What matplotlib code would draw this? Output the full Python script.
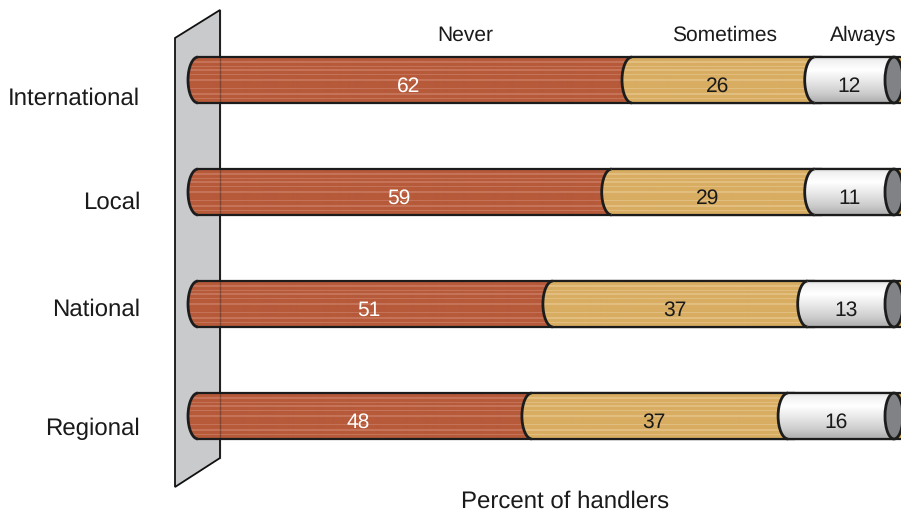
#!/usr/bin/env python3
import numpy as np
import matplotlib
matplotlib.use('Agg')
import matplotlib.pyplot as plt
from matplotlib.path import Path
from matplotlib.patches import PathPatch, Polygon, Ellipse
from matplotlib.transforms import Affine2D

plt.rcParams['font.family'] = ['Liberation Sans', 'DejaVu Sans']
plt.rcParams['text.hinting'] = 'none'
plt.rcParams['text.hinting_factor'] = 1

categories = ['International', 'Local', 'National', 'Regional']
series_names = ['Never', 'Sometimes', 'Always']
# segment lengths, printed labels are the rounded ones
never = [62.0, 59.1, 50.7, 47.7]
sometimes = [26.1, 29.0, 36.4, 36.6]
always = [11.9, 11.9, 12.9, 15.7]
never_labels = ['62', '59', '51', '48']
sometimes_labels = ['26', '29', '37', '37']
always_labels = ['12', '11', '13', '16']
stripe_rows = [4, 5, 9, 12, 13, 17, 22, 23, 31, 36, 37, 41]

W, H = 901, 512
PX_PER_UNIT = 7.0
X0 = 188
RX = 10 / PX_PER_UNIT
BAR_H = 0.205
LINE = '#1c1c1c'

fig = plt.figure(figsize=(W / 100, H / 100), dpi=100)
ax = fig.add_axes([0, 0, 1, 1])
ax.axis('off')
xlim = (-X0 / PX_PER_UNIT, (W - X0) / PX_PER_UNIT)
ylim = ((H - 80) / 112, -80 / 112)

# pixel coordinates for the furniture, y going down like the picture
pix = Affine2D().scale(1, -1).translate(0, H)

wall_pts = [(175, 38), (220, 10), (220, 458), (175, 487)]
ax.add_patch(Polygon(wall_pts, closed=True, facecolor='#c8cacc', edgecolor='#111111',
                     lw=1.3, transform=pix, zorder=1, joinstyle='miter'))


def striped(base, light):
    rows = np.tile(np.array(matplotlib.colors.to_rgb(base)), (46, 1))
    rows[stripe_rows] = matplotlib.colors.to_rgb(light)
    return rows[:, None, :]


def metal():
    stops = [0, 0.08, 0.28, 0.5, 0.8, 1]
    vals = [0.88, 0.95, 1.0, 0.92, 0.80, 0.68]
    g = np.interp(np.linspace(0, 1, 46), stops, vals)
    return np.dstack([g, g, g]).reshape(46, 1, 3)


def segment(start, end, y, image, z):
    cx = start + RX
    k = 0.5523
    top, bot = y - BAR_H, y + BAR_H
    arc = [(cx, top),
           (cx - k * RX, top), (start, y - k * BAR_H), (start, y),
           (start, y + k * BAR_H), (cx - k * RX, bot), (cx, bot)]
    arc_codes = [Path.MOVETO] + [Path.CURVE4] * 6
    verts = arc + [(end, bot), (end, top), (cx, top)]
    codes = arc_codes + [Path.LINETO] * 3
    shape = PathPatch(Path(verts, codes), facecolor='none', edgecolor='none', zorder=z)
    ax.add_patch(shape)
    im = ax.imshow(image, extent=[start, end, bot, top], aspect='auto',
                   interpolation='bilinear', zorder=z)
    im.set_clip_path(shape)
    ax.add_patch(PathPatch(Path(arc, arc_codes), facecolor='none', edgecolor=LINE,
                           lw=2.0, zorder=z + 0.1))
    ax.plot([cx, end], [top, top], color=LINE, lw=1.6, zorder=z + 0.1, solid_capstyle='butt')
    ax.plot([cx, end], [bot, bot], color=LINE, lw=1.6, zorder=z + 0.1, solid_capstyle='butt')


red_img = striped('#b65a3a', '#c5745a')
tan_img = striped('#d8ad62', '#e2bf80')
grey_img = metal()

for i, cat in enumerate(categories):
    a = never[i]
    b = a + sometimes[i]
    c = b + always[i]
    cap_c = c + 6 / PX_PER_UNIT
    segment(0, b + RX + 1, i, red_img, 2)
    segment(a, c + RX + 1, i, tan_img, 3)
    segment(b, cap_c, i, grey_img, 4)
    ax.add_patch(Ellipse((cap_c, i), 18 / PX_PER_UNIT, 2 * BAR_H, facecolor='#808285',
                         edgecolor=LINE, lw=2.0, zorder=5))
    ax.text(a / 2 + 0.5, i + 0.058, never_labels[i], color='white', fontsize=15.2,
            ha='center', va='center', zorder=6)
    ax.text(a + sometimes[i] / 2 + 0.6, i + 0.058, sometimes_labels[i], color='#1a1a1a', fontsize=15.2,
            ha='center', va='center', zorder=6)
    ax.text(b + always[i] / 2 + 0.4, i + 0.058, always_labels[i], color='#1a1a1a', fontsize=15.2,
            ha='center', va='center', zorder=6)

# wall edge shows faintly through the bars
ax.plot([220, 220], [10, 458], color='#111111', lw=1.0, alpha=0.3, transform=pix, zorder=4.5)

ax.set_xlim(*xlim)
ax.set_ylim(*ylim)

for name, (tx, ty) in zip(series_names, [(465, 35), (725, 35), (863, 35)]):
    ax.text(tx, ty, name, fontsize=15.2, color='#1a1a1a', ha='center', va='center', transform=pix)
for cat, ty in zip(categories, [99, 203, 310, 429]):
    ax.text(140, ty, cat, fontsize=17.3, color='#1a1a1a', ha='right', va='center', transform=pix)
ax.text(565, 501.5, 'Percent of handlers', fontsize=17.3, color='#1a1a1a', ha='center', va='center', transform=pix)

fig.savefig('out.png', dpi=100)
